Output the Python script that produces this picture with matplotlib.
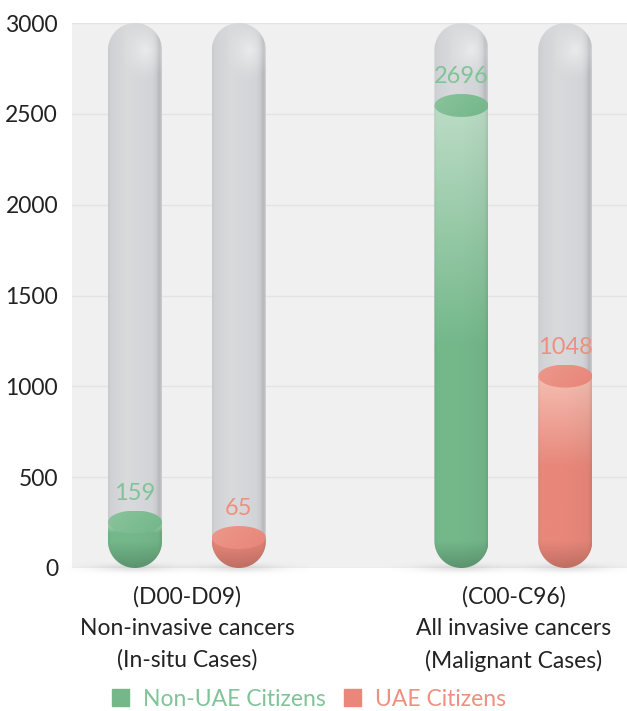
import numpy as np
import matplotlib
matplotlib.use("Agg")
import matplotlib.pyplot as plt
from matplotlib.path import Path
from matplotlib.patches import PathPatch, Patch
from matplotlib.colors import to_rgb

plt.rcParams['font.family'] = ['Lato', 'DejaVu Sans']

# data
groups = ["(D00-D09)\nNon-invasive cancers\n(In-situ Cases)",
          "(C00-C96)\nAll invasive cancers\n(Malignant Cases)"]
series = ["Non-UAE Citizens", "UAE Citizens"]
non_uae = [159, 2696]
uae = [65, 1048]
yticks = [0, 500, 1000, 1500, 2000, 2500, 3000]

W, H = 627, 711
fig = plt.figure(figsize=(W / 100, H / 100), dpi=100)
ax = fig.add_axes([72 / W, (H - 568) / H, 555 / W, 545 / H])
ax.set_facecolor('#f0f0f0')
for s in ax.spines.values():
    s.set_visible(False)
ax.set_ylim(0, 3000)
ax.set_xlim(-0.352, 1.348)
ax.set_yticks(yticks)
ax.grid(axis='y', color='#e3e3e3', lw=1)
ax.set_axisbelow(True)
ax.tick_params(axis='y', length=0, labelsize=16.5, labelcolor='#222222', pad=10)
ax.set_xticks([0, 1])
ax.set_xticklabels(groups, fontsize=16.5, color='#222222', linespacing=1.6)
ax.tick_params(axis='x', length=0, pad=13)

# overlay in pixel units for the tube drawings
pix = fig.add_axes([0, 0, 1, 1])
pix.set_xlim(0, W)
pix.set_ylim(0, H)
pix.axis('off')
pix.patch.set_alpha(0)

offset = 0.159
half_w = 0.0827
ymax = 3000


def to_px(x, y):
    return ax.transData.transform((x, y))


def capsule(cx, yb, yt, r, n=60):
    a1 = np.linspace(0, np.pi, n)
    a2 = np.linspace(np.pi, 2 * np.pi, n)
    top = np.c_[cx + r * np.cos(a1), yt - r + r * np.sin(a1)]
    bot = np.c_[cx + r * np.cos(a2), yb + r + r * np.sin(a2)]
    v = np.vstack([top, bot, top[:1]])
    return Path(v, closed=True)


def liquid_path(cx, yb, level, r, n=60):
    a = np.linspace(np.pi, 2 * np.pi, n)
    bot = np.c_[cx + r * np.cos(a), yb + r + r * np.sin(a)]
    v = np.vstack([[[cx - r, level]], bot, [[cx + r, level]], [[cx - r, level]]])
    return Path(v, closed=True)


def ellipse_path(cx, cy, rx, ry, n=80):
    a = np.linspace(0, 2 * np.pi, n)
    return Path(np.c_[cx + rx * np.cos(a), cy + ry * np.sin(a)], closed=True)


def stops_to_rgb(t, pos, cols):
    rgb = np.array([to_rgb(c) for c in cols])
    return np.stack([np.interp(t, pos, rgb[:, k]) for k in range(3)], axis=-1)


def put_image(img, extent, path, z):
    patch = PathPatch(path, facecolor='none', edgecolor='none', transform=pix.transData)
    pix.add_patch(patch)
    im = pix.imshow(img, extent=extent, origin='lower', interpolation='bilinear',
                    aspect='auto', zorder=z)
    im.set_clip_path(patch)


glass_pos = [0, 0.04, 0.12, 0.35, 0.6, 0.82, 0.9, 0.95, 0.985, 1.0]
glass_col = ['#c8c9cc', '#d0d1d4', '#d3d4d7', '#d9dadc', '#d6d7da',
             '#d3d4d7', '#c8cacd', '#b6b8bc', '#bdbfc2', '#cfd0d3']


def draw_glass(cx, yb, yt, r):
    # soft shadow at the foot of the tube
    sx = np.linspace(cx - 70, cx + 70, 141)
    sy = np.linspace(yb - 12, yb + 12, 25)
    SX, SY = np.meshgrid(sx, sy)
    a = 0.25 * np.exp(-((SX - cx) / 40) ** 2 - ((SY - yb) / 4) ** 2)
    sh = np.zeros(SX.shape + (4,))
    sh[..., :3] = 0.55
    sh[..., 3] = a
    pix.imshow(sh, extent=(sx[0], sx[-1], sy[0], sy[-1]), origin='lower',
               interpolation='bilinear', aspect='auto', zorder=1)

    nx, ny = int(4 * r), int(yt - yb)
    t = np.linspace(0, 1, nx)
    row = stops_to_rgb(t, glass_pos, glass_col)
    img = np.tile(row[None, :, :], (ny, 1, 1))
    X, Y = np.meshgrid(np.linspace(cx - r, cx + r, nx), np.linspace(yb, yt, ny))
    d = np.hypot(X - (cx + 0.4 * r), (Y - (yt - 1.0 * r)) * 0.8) / (0.9 * r)
    w = 0.5 * np.clip(1 - d, 0, 1) ** 1.3
    img = img * (1 - w[..., None]) + w[..., None]
    put_image(img, (cx - r, cx + r, yb, yt), capsule(cx, yb, yt, r), 2)


def draw_liquid(cx, yb, level, r, base, light, dark):
    nx, ny = int(4 * r), max(int(level - yb), 2)
    ys = np.linspace(yb, level, ny)
    col_top = yb + r
    grad_len = 0.55 * max(level - col_top, 1)
    f = np.clip((ys - (level - grad_len)) / grad_len, 0, 1)
    f = np.where(ys > col_top, f, 0)
    base_c, light_c, dark_c = map(lambda c: np.array(to_rgb(c)), (base, light, dark))
    colr = base_c[None, :] * (1 - f[:, None]) + light_c[None, :] * f[:, None]
    g = np.clip((col_top - ys) / r, 0, 1)
    colr = colr * (1 - g[:, None]) + dark_c[None, :] * g[:, None]
    shade = np.interp(np.linspace(0, 1, nx), [0, 0.05, 0.5, 0.93, 1], [0.95, 1, 1, 0.97, 0.9])
    img = colr[:, None, :] * shade[None, :, None]
    img = np.clip(img, 0, 1)
    put_image(img, (cx - r, cx + r, yb, level), liquid_path(cx, yb, level, r), 3)

    # surface of the liquid
    ry = 11.5
    X, Y = np.meshgrid(np.linspace(0, 1, nx), np.linspace(0, 1, 24))
    k = np.clip(0.6 - 0.7 * X + 0.3 * Y, 0, 1) * 0.35
    top = base_c[None, None, :] * (1 - k[..., None]) + light_c[None, None, :] * k[..., None]
    put_image(top, (cx - r, cx + r, level - ry, level + ry),
              ellipse_path(cx, level, r, ry), 4)


green, green_light, green_dark, green_text = '#74b88a', '#bcdcc6', '#5b946f', '#7fc497'
pink, pink_light, pink_dark, pink_text = '#e8877a', '#f4beb1', '#c06f63', '#ee907f'

bars = [(-offset, non_uae, green, green_light, green_dark, green_text),
        (offset, uae, pink, pink_light, pink_dark, pink_text)]

for dx, vals, base, light, dark, tcol in bars:
    for i, v in enumerate(vals):
        cx, yb = to_px(i + dx, 0)
        _, yt = to_px(i + dx, ymax)
        r = to_px(i + dx + half_w, 0)[0] - cx
        draw_glass(cx, yb, yt, r)
        # fill level inside the glass, above the rounded bottom
        _, level = to_px(i + dx, 109 + 0.904 * v)
        draw_liquid(cx, yb, level, r, base, light, dark)
        pix.text(cx, level + 29, f"{v}", ha='center', va='center',
                 fontsize=17, color=tcol, zorder=6)

handles = [Patch(color=green), Patch(color=pink)]
fig.legend(handles, series, loc='center', bbox_to_anchor=(0.493, 12 / H),
           ncol=2, frameon=False, fontsize=16.5, handlelength=0.75, handleheight=0.75,
           handletextpad=0.6, columnspacing=0.8, labelcolor=[green_text, pink_text])

fig.savefig('out.png', dpi=100)
